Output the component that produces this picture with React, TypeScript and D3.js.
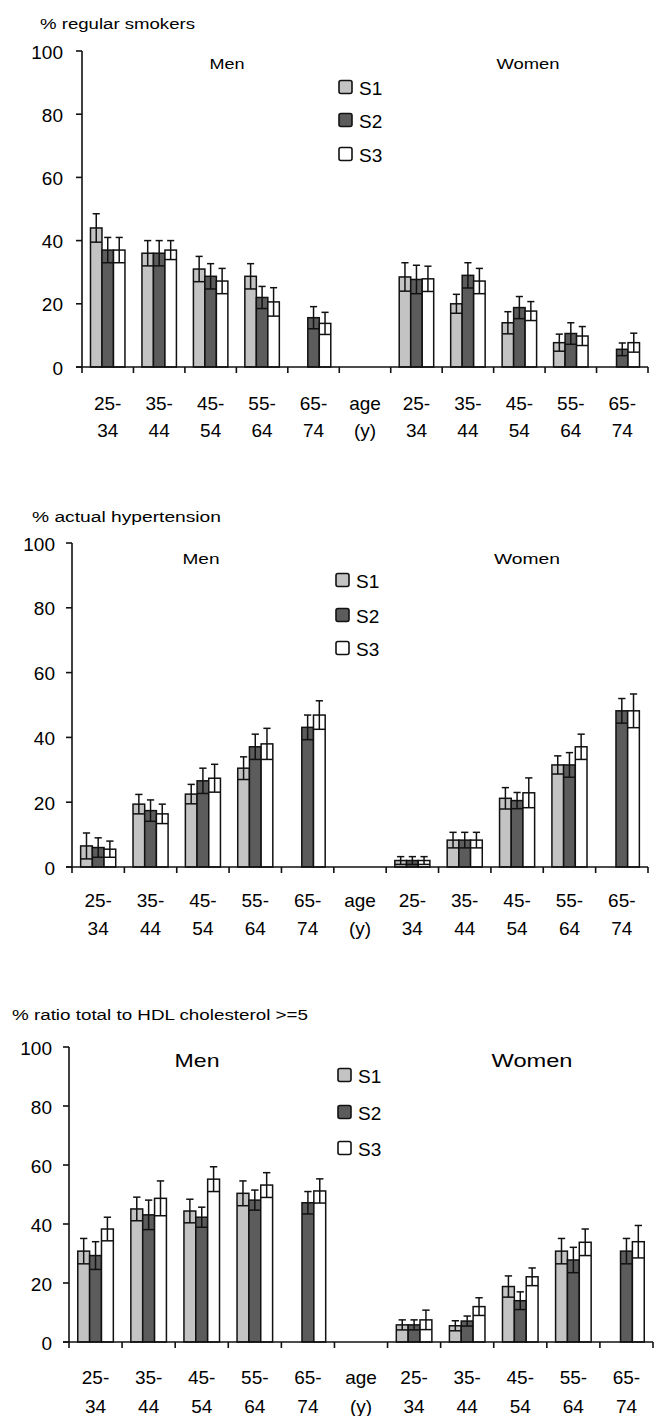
import React from "react";
import * as d3 from "d3";

// ---------- data ----------
const ageLabels: string[][] = [
  ["25-", "34"], ["35-", "44"], ["45-", "54"], ["55-", "64"], ["65-", "74"],
  ["age", "(y)"],
  ["25-", "34"], ["35-", "44"], ["45-", "54"], ["55-", "64"], ["65-", "74"],
];
const seriesNames = ["S1", "S2", "S3"];
const seriesColors = ["#c3c3c3", "#5c5c5c", "#ffffff"];
const yTicks = [0, 20, 40, 60, 80, 100];

type N = number | null;

const smokersS1: N[] = [44, 36, 31, 28.7, null, null, 28.5, 20, 14, 7.7, null];
const smokersS1Err: N[] = [4.5, 4, 4, 4, null, null, 4.5, 3, 3.5, 2.7, null];
const smokersS2: N[] = [37, 36, 28.7, 22, 15.6, null, 27.7, 29, 18.8, 10.6, 5.6];
const smokersS2Err: N[] = [4, 4, 4, 3.5, 3.5, null, 4.5, 4, 3.5, 3.4, 2];
const smokersS3: N[] = [37, 37, 27.2, 20.6, 13.8, null, 27.9, 27.2, 17.7, 9.8, 7.7];
const smokersS3Err: N[] = [4, 3, 4, 4.5, 3.5, null, 4, 4, 3, 3, 3];

const hyperS1: N[] = [6.5, 19.4, 22.5, 30.5, null, null, 2, 8.3, 21.2, 31.5, null];
const hyperS1Err: N[] = [4, 3, 3, 3.5, null, null, 1.2, 2.4, 3.3, 2.8, null];
const hyperS2: N[] = [6, 17.4, 26.6, 37.1, 43.1, null, 2, 8.3, 20.5, 31.5, 48.2];
const hyperS2Err: N[] = [3, 3.3, 3.9, 3.9, 3.8, null, 1.2, 2.4, 2.5, 3.8, 3.8];
const hyperS3: N[] = [5.5, 16.4, 27.4, 38, 46.9, null, 2, 8.3, 22.9, 37.1, 48.2];
const hyperS3Err: N[] = [2.5, 3, 4.3, 4.8, 4.4, null, 1.2, 2.4, 4.6, 3.9, 5.2];

const cholS1: N[] = [30.8, 45.1, 44.4, 50.4, null, null, 5.8, 5.5, 18.8, 30.8, null];
const cholS1Err: N[] = [4.3, 4, 4, 4.2, null, null, 1.7, 1.7, 3.6, 4.3, null];
const cholS2: N[] = [29.3, 43.1, 42.3, 48.1, 47.2, null, 5.8, 7.1, 14, 27.8, 30.8];
const cholS2Err: N[] = [4.7, 5, 3.4, 3.4, 3.8, null, 1.7, 1.7, 3, 4.3, 4.3];
const cholS3: N[] = [38.3, 48.7, 55.2, 53.2, 51.2, null, 7.5, 12, 22.1, 33.8, 34];
const cholS3Err: N[] = [4, 5.9, 4.2, 4.2, 4.1, null, 3.3, 3, 3, 4.5, 5.5];

const titles = [
  "% regular smokers",
  "% actual hypertension",
  "% ratio total to HDL cholesterol >=5",
];

// ---------- layout ----------
type Layout = {
  x0: number; x1: number; y0: number; y100: number;
  titleX: number; titleY: number; titleLen: number; titleSize: number;
  menX: number; womenX: number; sexY: number; sexSize: number; menLen: number; womenLen: number;
  legX: number; legY: number[];
  lab1: number; lab2: number; tickLabEnd: number;
};

const layouts: Layout[] = [
  { x0: 82, x1: 648, y0: 367, y100: 51, titleX: 40, titleY: 24, titleLen: 155, titleSize: 14,
    menX: 227, womenX: 528, sexY: 63, sexSize: 15, menLen: 35, womenLen: 63,
    legX: 338, legY: [87, 120, 154], lab1: 403, lab2: 430, tickLabEnd: 63 },
  { x0: 72, x1: 648, y0: 867, y100: 543, titleX: 32, titleY: 517, titleLen: 189, titleSize: 14,
    menX: 201, womenX: 527, sexY: 558, sexSize: 15, menLen: 37, womenLen: 66,
    legX: 335, legY: [580, 615, 648], lab1: 900, lab2: 928, tickLabEnd: 55 },
  { x0: 69, x1: 653, y0: 1342, y100: 1047, titleX: 12, titleY: 1015, titleLen: 296, titleSize: 14,
    menX: 197, womenX: 532, sexY: 1060, sexSize: 19, menLen: 45, womenLen: 81,
    legX: 337, legY: [1075, 1112, 1148], lab1: 1377, lab2: 1406, tickLabEnd: 52 },
];

const panelData: { v: N[]; e: N[] }[][] = [
  [{ v: smokersS1, e: smokersS1Err }, { v: smokersS2, e: smokersS2Err }, { v: smokersS3, e: smokersS3Err }],
  [{ v: hyperS1, e: hyperS1Err }, { v: hyperS2, e: hyperS2Err }, { v: hyperS3, e: hyperS3Err }],
  [{ v: cholS1, e: cholS1Err }, { v: cholS2, e: cholS2Err }, { v: cholS3, e: cholS3Err }],
];

const FONT = "'Liberation Sans', Arial, sans-serif";

function Panel({ L, data, title }: { L: Layout; data: { v: N[]; e: N[] }[]; title: string }) {
  const idx = ageLabels.map((_, i) => String(i));
  const x = d3.scaleBand<string>().domain(idx).range([L.x0, L.x1]).padding(0);
  const inner = d3.scaleBand<string>().domain(seriesNames).range([0, x.bandwidth() * 0.67]).padding(0);
  const groupOff = (x.bandwidth() - x.bandwidth() * 0.67) / 2;
  const y = d3.scaleLinear().domain([0, 100]).range([L.y0, L.y100]);
  const bw = inner.bandwidth();
  const capW = bw * 0.62;

  return (
    <g>
      <text x={L.titleX} y={L.titleY} dominantBaseline="central" fontSize={L.titleSize}
        textLength={L.titleLen} lengthAdjust="spacingAndGlyphs" fontFamily={FONT}>{title}</text>
      <text x={L.menX} y={L.sexY} dominantBaseline="central" textAnchor="middle" fontSize={L.sexSize}
        textLength={L.menLen} lengthAdjust="spacingAndGlyphs" fontFamily={FONT}>Men</text>
      <text x={L.womenX} y={L.sexY} dominantBaseline="central" textAnchor="middle" fontSize={L.sexSize}
        textLength={L.womenLen} lengthAdjust="spacingAndGlyphs" fontFamily={FONT}>Women</text>

      {/* legend */}
      {seriesNames.map((s, i) => (
        <g key={s}>
          <rect x={L.legX + 1} y={L.legY[i] - 6.5} width={13} height={13} rx={2}
            fill={seriesColors[i]} stroke="#111" strokeWidth={1.6} />
          <text x={L.legX + 21} y={L.legY[i] + 1} dominantBaseline="central" fontSize={19} fontFamily={FONT}>{s}</text>
        </g>
      ))}

      {/* bars */}
      {data.map((ser, si) =>
        ser.v.map((v, ci) => {
          if (v == null) return null;
          const e = ser.e[ci] ?? 0;
          const bx = (x(String(ci)) as number) + groupOff + (inner(seriesNames[si]) as number);
          const cx = bx + bw / 2;
          return (
            <g key={`${si}-${ci}`}>
              <rect x={bx} y={y(v)} width={bw} height={y(0) - y(v)} fill={seriesColors[si]}
                stroke="#111" strokeWidth={1.5} />
              <line x1={cx} x2={cx} y1={y(v - e)} y2={y(v + e)} stroke="#111" strokeWidth={1.5} />
              <line x1={cx - capW / 2} x2={cx + capW / 2} y1={y(v + e)} y2={y(v + e)} stroke="#111" strokeWidth={1.5} />
              <line x1={bx} x2={bx + bw} y1={y(v - e)} y2={y(v - e)} stroke="#111" strokeWidth={1.5} />
            </g>
          );
        })
      )}

      {/* y axis */}
      <line x1={L.x0} x2={L.x0} y1={y(0)} y2={y(100)} stroke="#111" strokeWidth={1.6} />
      {yTicks.map((t) => (
        <g key={t}>
          <line x1={L.x0 - 6} x2={L.x0} y1={y(t)} y2={y(t)} stroke="#111" strokeWidth={1.6} />
          <text x={L.tickLabEnd} y={y(t) + 1} textAnchor="end" dominantBaseline="central" fontSize={19} fontFamily={FONT}>{t}</text>
        </g>
      ))}

      {/* x axis */}
      <line x1={L.x0 - 6} x2={L.x1} y1={y(0)} y2={y(0)} stroke="#111" strokeWidth={1.6} />
      {idx.map((k) => (
        <line key={k} x1={(x(k) as number)} x2={(x(k) as number)} y1={y(0)} y2={y(0) + 6} stroke="#111" strokeWidth={1.6} />
      ))}
      <line x1={L.x1} x2={L.x1} y1={y(0)} y2={y(0) + 6} stroke="#111" strokeWidth={1.6} />
      {ageLabels.map((lab, i) => {
        const cx = (x(String(i)) as number) + x.bandwidth() / 2;
        return (
          <g key={i}>
            <text x={cx} y={L.lab1} textAnchor="middle" dominantBaseline="central" fontSize={19} fontFamily={FONT}>{lab[0]}</text>
            <text x={cx} y={L.lab2} textAnchor="middle" dominantBaseline="central" fontSize={19} fontFamily={FONT}>{lab[1]}</text>
          </g>
        );
      })}
    </g>
  );
}

export default function App() {
  return (
    <svg width={654} height={1416} style={{ position: "absolute", left: 0, top: 0, background: "#fff" }}>
      <rect width={654} height={1416} fill="#fff" />
      {layouts.map((L, i) => (
        <Panel key={i} L={L} data={panelData[i]} title={titles[i]} />
      ))}
    </svg>
  );
}
